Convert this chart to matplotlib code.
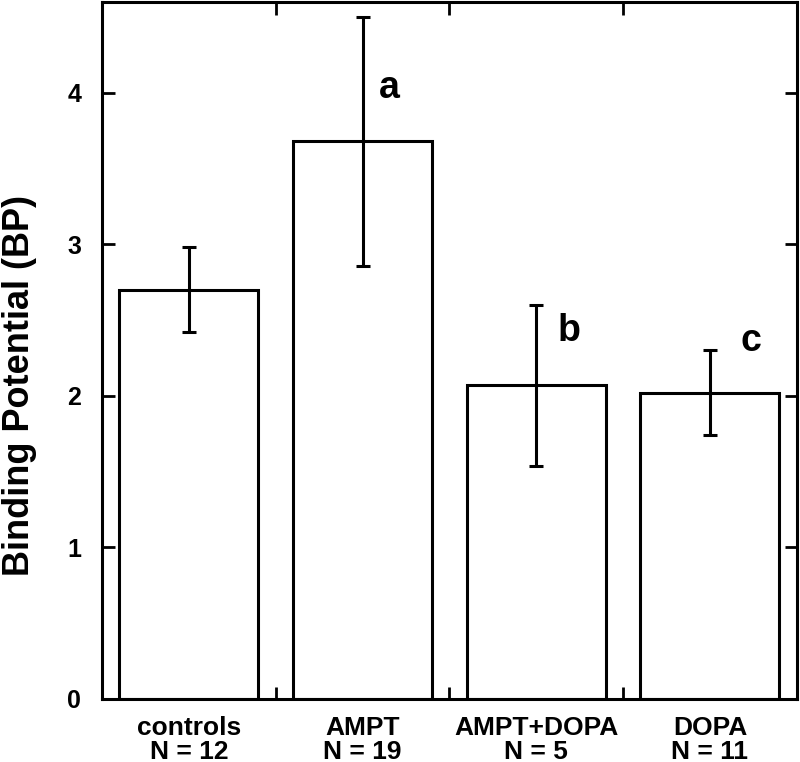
import matplotlib.pyplot as plt
import numpy as np

plt.rcParams['font.family'] = ['Liberation Sans', 'DejaVu Sans']
plt.rcParams['font.weight'] = 'bold'

groups = ['controls', 'AMPT', 'AMPT+DOPA', 'DOPA']
n_sizes = [12, 19, 5, 11]
bp_mean = [2.70, 3.68, 2.07, 2.02]
bp_err = [0.28, 0.82, 0.53, 0.28]
letters = ['', 'a', 'b', 'c']
letter_pos = [None, (1.155, 4.03), (2.19, 2.43), (3.235, 2.36)]

fig = plt.figure(figsize=(8, 7.62), dpi=100)
ax = fig.add_axes([0.1275, 0.0827, 0.8685, 0.9147])

x = np.arange(len(groups))
ax.bar(x, bp_mean, width=0.8, color='white', edgecolor='black', linewidth=2.2)
ax.errorbar(x, bp_mean, yerr=bp_err, fmt='none', ecolor='black',
            elinewidth=2.2, capsize=5, capthick=2.2)

for lab, pos in zip(letters, letter_pos):
    if pos:
        ax.text(pos[0], pos[1], lab, fontsize=27, fontweight='bold',
                ha='center', va='center')

ax.set_xlim(-0.5, 3.5)
ax.set_ylim(0, 4.6)

ax.set_xticks([0.5, 1.5, 2.5])
ax.set_xticklabels([])
ax.set_xticks(x, minor=True)
ax.set_xticklabels([f'{g}\nN = {n}' for g, n in zip(groups, n_sizes)],
                   minor=True, fontsize=19, fontweight='bold', linespacing=1.0)
ax.tick_params(axis='x', which='minor', length=0, pad=12)
ax.tick_params(axis='x', which='major', direction='in', length=9,
               width=2, top=True)

ax.set_yticks([0, 1, 2, 3, 4])
ax.tick_params(axis='y', direction='in', length=9, width=2, right=True,
               labelsize=18, pad=15)
for t in ax.get_yticklabels():
    t.set_fontweight('bold')

ax.set_ylabel('Binding Potential (BP)', fontsize=26, fontweight='bold')
ax.yaxis.set_label_coords(-0.094, 0.45)

for s in ax.spines.values():
    s.set_linewidth(2.2)

fig.savefig('out.png', dpi=100)
